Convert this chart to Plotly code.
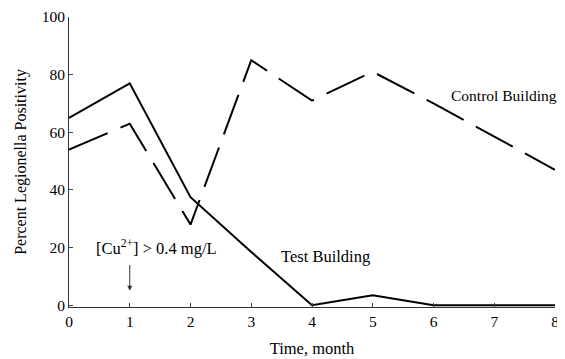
import plotly.graph_objects as go

months = [0, 1, 2, 3, 4, 5, 6, 7, 8]
test_building = [65, 77, 37.5, 18.5, 0, 3.5, 0, 0, 0]
control_building = [54, 63, 28, 85, 71, 81, 70, 58.5, 47]
y_ticks = [0, 20, 40, 60, 80, 100]
x_ticks = [0, 1, 2, 3, 4, 5, 6, 7, 8]

font_family = "Liberation Serif, Times New Roman, serif"

fig = go.Figure()
fig.add_trace(go.Scatter(x=months, y=test_building, mode="lines",
                         line=dict(color="black", width=2), name="Test Building",
                         showlegend=False))
fig.add_trace(go.Scatter(x=months, y=control_building, mode="lines",
                         line=dict(color="black", width=2, dash="42px,14px"),
                         name="Control Building", showlegend=False))

fig.add_annotation(x=1.44, y=20,
                   text="[Cu<sup>2+</sup>] > 0.4 mg/L",
                   showarrow=False,
                   font=dict(family=font_family, size=16.5, color="black"))
fig.add_annotation(x=1, y=5, ax=1, ay=14.5, axref="x", ayref="y", xref="x", yref="y",
                   text="", showarrow=True, arrowhead=2, arrowsize=1, arrowwidth=1,
                   standoff=0, startstandoff=0, arrowcolor="#333")
fig.add_annotation(x=4.22, y=17, text="Test Building", showarrow=False,
                   font=dict(family=font_family, size=16.5, color="black"))
fig.add_annotation(x=7.16, y=72.8, text="Control Building", showarrow=False,
                   font=dict(family=font_family, size=15.5, color="black"))

# page body has an 8px default margin, so the figure is offset by 8px
fig.update_layout(
    width=557, height=351,
    margin=dict(l=61, r=10, t=9, b=52),
    paper_bgcolor="white", plot_bgcolor="white",
    font=dict(family=font_family, size=15.5, color="black"),
)
fig.update_xaxes(range=[0, 8], tickvals=x_ticks, ticks="inside", ticklen=4,
                 tickcolor="#444", showline=True, linecolor="#333", linewidth=1,
                 showgrid=False, zeroline=False, mirror=False, automargin=False,
                 title=dict(text="Time, month", standoff=13,
                            font=dict(family=font_family, size=16.5)),
                 tickfont=dict(family=font_family, size=15.5))
fig.update_yaxes(range=[-0.6, 100], tickvals=y_ticks, ticks="inside", ticklen=4,
                 tickcolor="#444", showline=True, linecolor="#333", linewidth=1,
                 showgrid=False, zeroline=False, mirror=False, automargin=False,
                 title=dict(text="Percent Legionella Positivity", standoff=11,
                            font=dict(family=font_family, size=16)),
                 tickfont=dict(family=font_family, size=15.5))

fig.write_html("out.html")
